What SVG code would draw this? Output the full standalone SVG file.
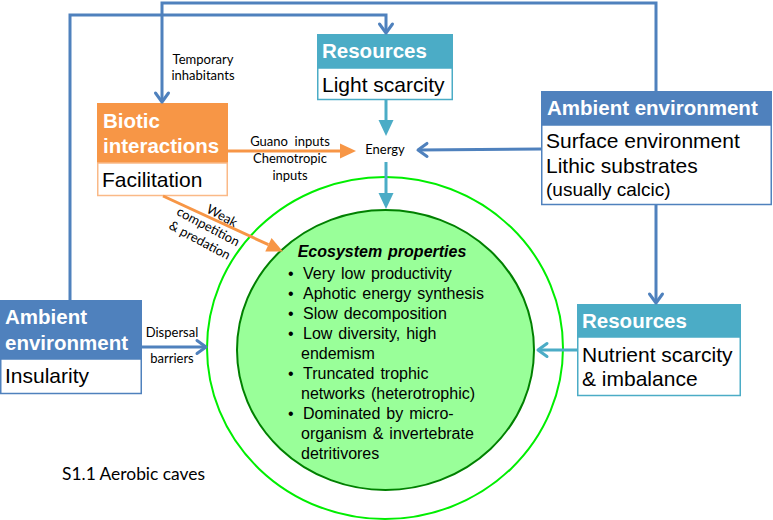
<svg xmlns="http://www.w3.org/2000/svg" width="773" height="520" viewBox="0 0 773 520">
<style>
.hd{font-family:"Liberation Sans",Arial,sans-serif;font-weight:bold;font-size:20.5px;fill:#fff}
.bd{font-family:"Liberation Sans",Arial,sans-serif;font-size:21px;fill:#000}
.lb{font-family:Lato,"Open Sans",sans-serif;font-size:13px;fill:#000}
.ep{font-family:"Liberation Sans",Arial,sans-serif;font-size:16px;fill:#000;word-spacing:1.5px}
.ln{fill:none;stroke-width:3}
.blue{stroke:#4F81BD}
.teal{stroke:#4BACC6}
.orng{stroke:#F79646}
</style>
<defs>
<marker id="openBlue" markerUnits="userSpaceOnUse" markerWidth="14" markerHeight="16" viewBox="0 0 14 16" refX="12" refY="8" orient="auto" overflow="visible">
<path d="M3,1.5 L12,8 L3,14.5" fill="none" stroke="#4F81BD" stroke-width="3" stroke-linecap="round" stroke-linejoin="round"/>
</marker>
<marker id="openTeal" markerUnits="userSpaceOnUse" markerWidth="14" markerHeight="16" viewBox="0 0 14 16" refX="12" refY="8" orient="auto" overflow="visible">
<path d="M3,1.5 L12,8 L3,14.5" fill="none" stroke="#4BACC6" stroke-width="3" stroke-linecap="round" stroke-linejoin="round"/>
</marker>
<marker id="triTeal" markerUnits="userSpaceOnUse" markerWidth="16" markerHeight="16" viewBox="0 0 16 16" refX="0" refY="8" orient="auto" overflow="visible">
<path d="M0,0.5 L16,8 L0,15.5 z" fill="#4BACC6"/>
</marker>
<marker id="triOrange" markerUnits="userSpaceOnUse" markerWidth="16" markerHeight="16" viewBox="0 0 16 16" refX="0" refY="8" orient="auto" overflow="visible">
<path d="M0,0.5 L16,8 L0,15.5 z" fill="#F79646"/>
</marker>
</defs>
<rect width="773" height="520" fill="#fff"/>

<g id="outer-ring">
<ellipse cx="385" cy="348" rx="178" ry="171" fill="none" stroke="#00EE00" stroke-width="2"/>
</g>

<g id="ecosystem-properties">
<ellipse cx="385.5" cy="350" rx="148.5" ry="140" fill="#99FF99" stroke="#008000" stroke-width="2"/>
<text class="ep" x="382" y="257" text-anchor="middle" font-weight="bold" font-style="italic">Ecosystem properties</text>
<g class="ep">
<text x="288" y="279">•</text><text x="303" y="279">Very low productivity</text>
<text x="288" y="299">•</text><text x="303" y="299">Aphotic energy synthesis</text>
<text x="288" y="319">•</text><text x="303" y="319">Slow decomposition</text>
<text x="288" y="339">•</text><text x="303" y="339">Low diversity, high</text>
<text x="301" y="359">endemism</text>
<text x="288" y="379">•</text><text x="303" y="379">Truncated trophic</text>
<text x="301" y="399">networks (heterotrophic)</text>
<text x="288" y="419">•</text><text x="303" y="419">Dominated by micro-</text>
<text x="301" y="439">organism &amp; invertebrate</text>
<text x="301" y="459">detritivores</text>
</g>
</g>

<g id="resources-light">
<rect x="317" y="34" width="136" height="34" fill="#4BACC6"/>
<rect x="317.75" y="68" width="134.5" height="31.5" fill="#fff" stroke="#4BACC6" stroke-width="1.5"/>
<text class="hd" x="322" y="58">Resources</text>
<text class="bd" x="322" y="92">Light scarcity</text>
</g>

<g id="biotic-interactions">
<rect x="97" y="103" width="131" height="60" fill="#F79646"/>
<rect x="97.75" y="163" width="129.5" height="32.5" fill="#fff" stroke="#FAB987" stroke-width="1.5"/>
<text class="hd" x="103" y="128">Biotic</text>
<text class="hd" x="103" y="153">interactions</text>
<text class="bd" x="102" y="187">Facilitation</text>
</g>

<g id="ambient-surface">
<rect x="541" y="91" width="231" height="34" fill="#4F81BD"/>
<rect x="541.75" y="125" width="229.5" height="79.5" fill="#fff" stroke="#4F81BD" stroke-width="1.5"/>
<text class="hd" x="547" y="115">Ambient environment</text>
<text class="bd" x="546" y="148">Surface environment</text>
<text class="bd" x="546" y="173">Lithic substrates</text>
<text class="bd" x="546" y="196" style="font-size:19px">(usually calcic)</text>
</g>

<g id="ambient-insularity">
<rect x="0" y="300" width="142" height="59" fill="#4F81BD"/>
<rect x="0.75" y="359" width="140.5" height="34.5" fill="#fff" stroke="#4F81BD" stroke-width="1.5"/>
<text class="hd" x="5" y="324">Ambient</text>
<text class="hd" x="5" y="350">environment</text>
<text class="bd" x="5" y="383">Insularity</text>
</g>

<g id="resources-nutrient">
<rect x="577" y="304" width="164" height="33" fill="#4BACC6"/>
<rect x="577.75" y="337" width="162.5" height="58.5" fill="#fff" stroke="#4BACC6" stroke-width="1.5"/>
<text class="hd" x="582" y="328">Resources</text>
<text class="bd" x="582" y="362">Nutrient scarcity</text>
<text class="bd" x="582" y="386">&amp; imbalance</text>
</g>

<g id="connectors">
<path class="ln blue" d="M70,300 L70,15 L386,15 L386,33" marker-end="url(#openBlue)"/>
<path class="ln blue" d="M656,91 L656,3 L162,3 L162,102" marker-end="url(#openBlue)"/>
<path class="ln blue" d="M541,149 L418,150" marker-end="url(#openBlue)"/>
<path class="ln blue" d="M656,205 L656,303" marker-end="url(#openBlue)"/>
<path class="ln blue" d="M142,347 L206,347" marker-end="url(#openBlue)"/>
<path class="ln teal" d="M577,350 L538,350" marker-end="url(#openTeal)"/>
<path class="ln teal" d="M386,100 L386,120" marker-end="url(#triTeal)"/>
<path class="ln teal" d="M386,162 L386,193" marker-end="url(#triTeal)"/>
<path class="ln orng" d="M228,151 L340,151" marker-end="url(#triOrange)"/>
<path class="ln orng" d="M163,196 L268.4,244.7" marker-end="url(#triOrange)"/>
</g>

<g id="labels">
<text class="lb" x="203" y="64" text-anchor="middle">Temporary</text>
<text class="lb" x="203" y="80" text-anchor="middle">inhabitants</text>
<text class="lb" x="290" y="146" text-anchor="middle" style="white-space:pre">Guano  inputs</text>
<text class="lb" x="290" y="163" text-anchor="middle">Chemotropic</text>
<text class="lb" x="290" y="180" text-anchor="middle">inputs</text>
<text class="lb" x="385" y="154" text-anchor="middle">Energy</text>
<g transform="translate(208,227) rotate(28)">
<text class="lb" x="7" y="-12" text-anchor="middle">Weak</text>
<text class="lb" x="0" y="4" text-anchor="middle">competition</text>
<text class="lb" x="-1" y="20" text-anchor="middle">&amp; predation</text>
</g>
<text class="lb" x="172" y="337" text-anchor="middle">Dispersal</text>
<text class="lb" x="172" y="363" text-anchor="middle">barriers</text>
<text class="lb" x="62" y="480" style="font-size:17.4px">S1.1 Aerobic caves</text>
</g>
</svg>
